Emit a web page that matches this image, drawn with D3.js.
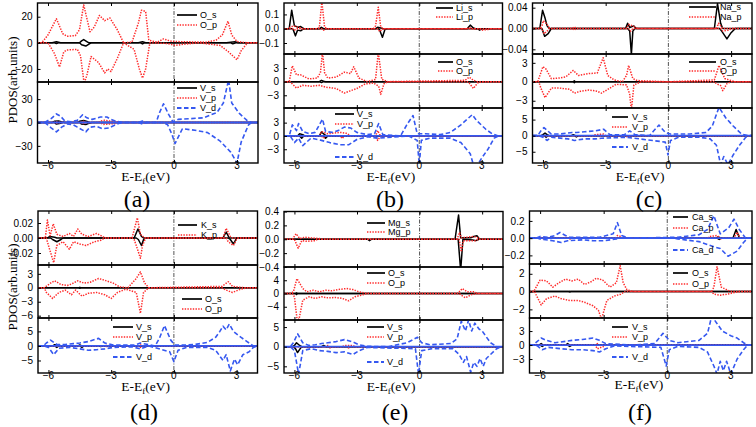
<!DOCTYPE html>
<html><head><meta charset="utf-8">
<script src="https://cdn.jsdelivr.net/npm/d3@7"></script>
<style>body{margin:0;background:#fff}svg{display:block}</style></head>
<body><svg id="c" width="756" height="427"></svg>
<script>
// ---------------- DATA (energy in eV, PDOS; up = positive, down = negative) ----------------
const xTicks = [-6, -3, 0, 3];
const xDomain = [-6.5, 4];

// (a) top: O
const a_Os_up = [[-5.8,0],[-5.6,0.8],[-5.4,0],[-4.5,0],[-4.4,1.5],[-4.3,2.5],[-4.15,1],[-4.05,0],[-1.7,0],[-1.5,0.8],[-1.35,0],[2.5,0],[2.7,0.5],[2.9,0.8],[3.05,0]];
const a_Os_dn = [[-5.7,0],[-5.6,-0.5],[-5.5,0],[-4.5,0],[-4.4,-1.5],[-4.2,-2.5],[-4.05,-1],[-3.95,0],[-1.6,0],[-1.5,-0.8],[-1.4,0],[2.7,0],[2.8,-0.8],[2.95,0]];
const a_Op_up = [[-6.3,0],[-6.0,6],[-5.6,18.5],[-5.3,7],[-5.1,5],[-4.7,5.5],[-4.5,10],[-4.3,29],[-4.0,8.5],[-3.8,12],[-3.55,21],[-3.3,17],[-3.05,19],[-2.7,10],[-2.4,0],[-2.0,0.5],[-1.7,15],[-1.55,25],[-1.35,24],[-1.2,2],[-0.8,0.5],[-0.5,3],[-0.2,1.5],[0,1],[1.5,0.5],[2.0,2],[2.3,6],[2.57,16.5],[2.75,6],[3.0,1],[3.5,0]];
const a_Op_dn = [[-6.0,0],[-5.7,-8],[-5.45,-18.5],[-5.25,-7],[-5.1,-5.5],[-4.6,-5],[-4.45,-10],[-4.28,-31],[-4.15,-25],[-3.95,-10.5],[-3.6,-15],[-3.3,-23],[-3.15,-20],[-3.0,-22],[-2.7,-12],[-2.4,0],[-1.9,-5],[-1.65,-20],[-1.5,-27],[-1.35,-20],[-1.15,0],[-0.3,-0.5],[0.05,-2],[0.5,-1],[1.2,0],[2.2,-2],[2.6,-7],[3.0,-13],[3.2,-6],[3.5,0]];
// (a) bottom: V
const a_Vs_up = [[-5.8,0],[-5.7,1.5],[-5.5,2],[-5.3,0.5],[-5.2,0],[-4.6,0],[-4.5,1.5],[-4.3,2.5],[-4.1,1],[-4.0,0]];
const a_Vs_dn = [[-5.7,0],[-5.6,-2],[-5.4,-1],[-5.3,0],[-4.5,0],[-4.4,-2],[-4.2,-2.5],[-4.0,-0.5],[-3.9,0]];
const a_Vp_up = [[-5.7,0],[-5.6,1],[-5.5,0],[-4.4,0],[-4.3,1.5],[-4.2,0],[-3.6,0],[-3.5,2],[-3.3,3],[-3.1,2],[-2.7,1],[-2.6,0],[-1.6,0],[-1.5,1],[-1.4,0],[2.5,0],[2.6,0.5],[2.7,0]];
const a_Vp_dn = [[-5.7,0],[-5.6,-1],[-5.5,0],[-4.4,0],[-4.3,-1.5],[-4.2,0],[-3.5,0],[-3.4,-2.5],[-3.1,-2],[-2.7,-1],[-2.6,0],[-1.6,0],[-1.5,-1],[-1.4,0]];
const a_Vd_up = [[-6.2,0],[-6.1,1],[-5.85,5],[-5.6,11],[-5.4,8],[-5.2,2],[-4.9,1],[-4.6,3],[-4.35,10],[-4.15,6],[-3.9,4],[-3.5,7],[-3.2,7],[-3.0,4],[-2.8,2],[-2.6,1],[-2.4,0],[-1.7,0],[-1.5,2],[-1.3,0],[-0.85,0],[-0.7,12],[-0.5,24],[-0.25,10],[-0.05,1],[0.2,4],[0.8,5],[1.4,6],[2.05,13],[2.35,25],[2.6,55],[2.75,25],[3.1,12],[3.46,3],[3.7,0]];
const a_Vd_dn = [[-6.2,0],[-6.1,-1],[-5.85,-7],[-5.6,-12],[-5.35,-6],[-5.1,-2],[-4.8,-3],[-4.6,-6],[-4.2,-12],[-4.0,-6],[-3.7,-5],[-3.4,-8],[-3.1,-7],[-2.8,-3],[-2.6,-1],[-2.4,0],[-1.7,0],[-1.5,-2],[-1.3,0],[-0.5,0],[-0.3,-3],[-0.1,-15],[0.05,-27],[0.4,-8],[1.0,-10],[1.6,-13],[2.2,-24],[2.7,-38],[3.0,-52],[3.2,-25],[3.55,-3],[3.7,0]];

// (b) top: Li
const b_Lis_up = [[-6.25,0],[-6.13,0.13],[-6.0,0.02],[-5.8,0.01],[-5.7,0.015],[-5.55,0],[-4.8,0],[-4.7,0.01],[-4.6,0],[-2.1,0],[-2.0,0.01],[-1.85,0.005],[-1.75,0],[2.3,0],[2.45,0.025],[2.6,0.005],[2.7,0]];
const b_Lis_dn = [[-6.1,0],[-6.05,-0.01],[-5.95,-0.05],[-5.85,-0.01],[-5.7,-0.015],[-5.55,0],[-1.95,0],[-1.9,-0.01],[-1.77,-0.06],[-1.65,-0.005],[-1.55,0],[2.8,0],[2.9,-0.01],[3.0,0]];
const b_Lip_up = [[-6.3,0],[-6.2,0.01],[-6.05,0.02],[-5.8,0.01],[-5.6,0],[-4.9,0],[-4.8,0.01],[-4.68,0.19],[-4.55,0.01],[-4.4,0],[-2.2,0],[-2.1,0.02],[-1.97,0.15],[-1.85,0.01],[-1.7,0],[2.3,0],[2.4,0.01],[2.5,0]];
const b_Lip_dn = [[-6.1,0],[-6.0,-0.01],[-5.9,0],[-4.7,0],[-4.6,-0.01],[-4.5,0],[-2.0,0],[-1.9,-0.02],[-1.8,-0.005],[-1.7,0],[2.9,0],[3.0,-0.01],[3.3,-0.005],[3.4,0]];
// (b) middle: O
const b_Os_up = [[-4.8,0],[-4.7,0.3],[-4.6,0.1],[-4.5,0]];
const b_Os_dn = [[-4.8,0],[-4.7,-0.2],[-4.6,0]];
const b_Op_up = [[-6.25,0],[-6.1,3.5],[-5.9,1.5],[-5.7,1.5],[-5.3,0.6],[-4.9,0.8],[-4.75,2],[-4.65,6.5],[-4.55,2],[-4.4,0.8],[-4.0,1],[-3.6,2.1],[-3.3,1.8],[-3.15,3.3],[-2.9,0.8],[-2.5,0],[-2.1,0.5],[-1.97,6.5],[-1.8,0.5],[-1.5,0],[2.2,0.3],[2.4,1],[2.6,0.3],[2.8,0]];
const b_Op_dn = [[-6.2,0],[-6.1,-0.5],[-5.9,-1.4],[-5.6,-0.8],[-5.2,-1],[-4.8,-0.8],[-4.5,-1.2],[-4.0,-1.5],[-3.6,-2.5],[-3.3,-2],[-3.0,-1.5],[-2.6,-0.5],[-2.2,-0.3],[-1.95,-1],[-1.85,-2.8],[-1.7,-0.5],[-1.5,0],[2.3,0],[2.4,-0.3],[2.6,-1.5],[2.8,-0.3],[3.0,0]];
// (b) bottom: V
const b_Vs_up = [[-5.85,0],[-5.75,0.5],[-5.6,0.3],[-5.5,0],[-4.8,0],[-4.7,0.9],[-4.55,0.3],[-4.45,0]];
const b_Vs_dn = [[-5.75,0],[-5.65,-0.5],[-5.55,0],[-4.6,0],[-4.5,-0.5],[-4.4,0]];
const b_Vp_up = [[-4.8,0],[-4.7,1],[-4.4,0.5],[-3.8,0.8],[-3.5,0.6],[-3.3,0],[-2.1,0],[-2.0,1.2],[-1.9,0.3],[-1.8,0]];
const b_Vp_dn = [[-4.7,0],[-4.6,-0.5],[-4.5,0],[-3.8,0],[-3.7,-0.6],[-3.6,0],[-2.1,0],[-2.0,-1.0],[-1.9,-0.3],[-1.8,0]];
const b_Vd_up = [[-6.25,0],[-6.1,2.5],[-5.9,1.2],[-5.8,2.8],[-5.6,1],[-5.3,0.5],[-5.0,0.8],[-4.65,3.8],[-4.5,1],[-4.2,0.8],[-3.9,1.2],[-3.6,2],[-3.3,1.8],[-3.0,0.8],[-2.5,0.3],[-2.15,0.5],[-1.95,2.8],[-1.75,0.3],[-0.9,0],[-0.6,2.5],[-0.3,4.6],[-0.1,0.5],[0.3,0.5],[1.0,0.3],[1.5,0.8],[2.0,2.5],[2.55,4.8],[2.75,3.5],[3.2,1.5],[3.5,0.5],[3.8,0]];
const b_Vd_dn = [[-6.2,0],[-6.0,-1.5],[-5.8,-0.5],[-5.6,-2.2],[-5.2,-0.5],[-4.7,-1],[-4.3,-1.5],[-3.8,-2],[-3.4,-2],[-3.0,-0.8],[-2.5,-0.2],[-2.0,-0.5],[-0.5,0],[-0.1,-1],[0,-6.5],[0.1,-1],[0.5,-0.5],[1.5,-0.5],[2.0,-1.5],[2.45,-4],[2.6,-6.5],[2.8,-6.5],[3.0,-5],[3.3,-3],[3.6,-0.5],[3.8,0]];

// (c) top: Na
const c_Nas_up = [[-6.15,0],[-6.02,0.035],[-5.9,0.02],[-5.8,0.005],[-5.7,0],[-2.05,0],[-1.95,0.01],[-1.85,0.002],[-1.65,0.005],[-1.55,0],[2.2,0],[2.35,0.048],[2.5,0.01],[2.6,0]];
const c_Nas_dn = [[-6.05,0],[-5.92,-0.015],[-5.75,-0.01],[-5.6,0],[-1.95,0],[-1.85,-0.005],[-1.77,-0.05],[-1.7,-0.005],[-1.6,0],[2.45,0],[2.55,-0.005],[2.8,-0.02],[3.0,-0.008],[3.2,0]];
const c_Nap_up = [[-6.15,0],[-6.05,0.005],[-5.98,0.015],[-5.85,0.01],[-5.7,0.002],[-5.6,0],[-4.6,0],[-4.5,0.003],[-4.4,0],[-2.0,0],[-1.9,0.008],[-1.6,0.003],[-1.5,0],[2.3,0],[2.4,0.01],[2.5,0.005],[2.6,0]];
const c_Nap_dn = [[-6.05,0],[-5.95,-0.01],[-5.8,-0.005],[-5.7,0],[-4.6,0],[-4.5,-0.003],[-4.4,0],[-1.9,0],[-1.8,-0.005],[-1.7,0],[2.5,0],[2.6,-0.005],[2.9,-0.003],[3.0,0]];
// (c) middle: O
const c_Os_up = [[-4.55,0],[-4.5,0.15],[-4.45,0]];
const c_Os_dn = [[-4.55,0],[-4.5,-0.15],[-4.45,0]];
const c_Op_up = [[-6.25,0],[-6.0,2.4],[-5.85,2],[-5.6,0.5],[-5.2,0.6],[-4.9,0.8],[-4.55,1.8],[-4.3,1],[-3.8,1.3],[-3.4,1.4],[-3.12,3.8],[-2.9,1],[-2.6,0.3],[-2.2,0],[-2.0,1],[-1.9,2.6],[-1.7,0.5],[-1.5,0.2],[-0.8,0.1],[0,0],[2.2,0.3],[2.42,2.6],[2.7,0.5],[3.0,0.2],[3.2,0]];
const c_Op_dn = [[-6.2,0],[-6.1,-1],[-5.9,-2.5],[-5.6,-1],[-5.2,-1],[-4.7,-1.2],[-4.5,-1.8],[-4.2,-1.5],[-3.8,-1.3],[-3.4,-1.5],[-3.2,-1.8],[-2.8,-1],[-2.5,-0.4],[-2.0,-0.5],[-1.85,-2],[-1.77,-4.5],[-1.65,-0.5],[-1.3,0],[2.2,0],[2.3,-0.3],[2.5,-0.6],[2.6,-1.4],[2.8,-0.3],[3.0,0]];
// (c) bottom: V
const c_Vs_up = [[-6.1,0],[-6.0,0.3],[-5.9,0.8],[-5.8,0.3],[-5.7,0],[-4.65,0],[-4.55,0.3],[-4.45,0]];
const c_Vs_dn = [[-5.95,0],[-5.85,-0.5],[-5.75,0],[-4.5,0],[-4.4,-0.4],[-4.3,0]];
const c_Vp_up = [[-3.6,0],[-3.5,0.3],[-3.1,0.5],[-3.0,0]];
const c_Vp_dn = [[-3.4,0],[-3.3,-0.3],[-3.2,0],[-2.1,0],[-2.0,-0.3],[-1.9,0]];
const c_Vd_up = [[-6.25,0],[-6.1,1.5],[-5.95,2.5],[-5.6,0.5],[-5.2,0.5],[-4.6,1],[-4.4,1],[-4.0,1.2],[-3.5,1.5],[-3.1,2],[-2.8,0.3],[-2.1,0.3],[-1.85,1.5],[-1.6,0.3],[-0.9,0],[-0.7,1.5],[-0.45,3.3],[-0.15,1],[0.1,0.5],[1.0,0.5],[1.8,1],[2.1,3],[2.42,8.8],[2.75,5.5],[3.1,3],[3.5,0.5],[3.8,0]];
const c_Vd_dn = [[-6.2,0],[-6.0,-0.5],[-5.8,-1.5],[-5.6,-0.5],[-4.8,-1],[-4.5,-1.5],[-4.0,-1],[-3.5,-1],[-3.2,-0.8],[-2.0,-0.5],[-0.15,-2],[-0.02,-6],[0.1,-1.5],[0.5,-0.5],[1.5,-0.5],[2.0,-1],[2.3,-3],[2.5,-9],[2.65,-6.5],[2.85,-9],[3.1,-6],[3.4,-3],[3.7,-0.5],[3.9,0]];

// (d) top: K
const d_Ks_up = [[-6.05,0],[-5.95,0.002],[-5.7,0.001],[-5.6,0],[-1.9,0],[-1.72,0.012],[-1.55,0.002],[-1.45,0],[2.35,0],[2.5,0.008],[2.65,0]];
const d_Ks_dn = [[-5.9,0],[-5.8,-0.002],[-5.6,-0.005],[-5.4,-0.002],[-5.3,0],[-1.8,0],[-1.7,-0.002],[-1.55,-0.01],[-1.45,-0.002],[-1.35,0],[2.6,0],[2.7,-0.002],[2.85,-0.008],[3.0,0]];
const d_Kp_up = [[-6.15,0],[-6.05,0.024],[-5.92,0.003],[-5.77,0.019],[-5.6,0.005],[-5.3,0.002],[-5.0,0.006],[-4.8,0.002],[-4.6,0.012],[-4.4,0.005],[-4.1,0.002],[-3.7,0.006],[-3.4,0.002],[-3.3,0],[-2.0,0],[-1.75,0.027],[-1.6,0.005],[-1.4,0],[2.35,0],[2.5,0.013],[2.7,0.002],[2.8,0]];
const d_Kp_dn = [[-6.1,0],[-6.0,-0.01],[-5.75,-0.033],[-5.6,-0.01],[-5.3,-0.005],[-5.0,-0.015],[-4.8,-0.005],[-4.5,-0.008],[-4.2,-0.01],[-3.8,-0.005],[-3.5,-0.003],[-3.3,0],[-2.0,0],[-1.9,-0.002],[-1.8,-0.01],[-1.6,-0.027],[-1.5,-0.01],[-1.35,0],[2.5,0],[2.6,-0.005],[2.85,-0.01],[3.0,-0.002],[3.1,0]];
// (d) middle: O
const d_Os_up = [[-4.55,0],[-4.5,0.1],[-4.45,0]];
const d_Os_dn = [[-4.55,0],[-4.5,-0.1],[-4.45,0]];
const d_Op_up = [[-6.2,0],[-5.9,1],[-5.7,1.5],[-5.4,0.7],[-5.1,0.5],[-4.9,0.8],[-4.6,1.5],[-4.3,1],[-4.0,1.2],[-3.6,2],[-3.3,1.6],[-2.9,1],[-2.6,0.2],[-2.2,0],[-1.8,2],[-1.6,3.4],[-1.4,1],[-1.2,0],[2.3,0.3],[2.45,0.8],[2.6,1.3],[2.8,0.3],[3.2,0.1],[3.4,0]];
const d_Op_dn = [[-6.2,0],[-6.1,-1],[-5.8,-2.3],[-5.5,-1],[-5.2,-0.5],[-4.9,-1.5],[-4.7,-0.5],[-4.4,-1.8],[-4.1,-1.2],[-3.7,-1],[-3.3,-1.5],[-3.0,-2.3],[-2.7,-1],[-2.3,-0.3],[-1.8,-1],[-1.6,-5.5],[-1.45,-1],[-1.2,0],[2.3,0],[2.5,-0.5],[2.8,-1],[3.2,-0.3],[3.5,0]];
// (d) bottom: V
const d_Vs_up = [[-5.8,0],[-5.7,0.4],[-5.5,0.3],[-5.4,0],[-4.6,0],[-4.5,0.3],[-4.4,0]];
const d_Vs_dn = [[-5.7,0],[-5.6,-0.5],[-5.5,0],[-4.5,0],[-4.4,-0.5],[-4.3,0],[-3.6,0],[-3.5,-0.2],[-3.4,0]];
const d_Vp_up = [[-3.3,0],[-3.2,0.3],[-3.1,0],[-1.7,0],[-1.6,0.3],[-1.5,0]];
const d_Vp_dn = [[-3.3,0],[-3.2,-0.3],[-3.1,0],[-1.7,0],[-1.6,-0.5],[-1.5,0]];
const d_Vd_up = [[-6.25,0],[-6.1,1],[-5.9,2],[-5.6,0.5],[-5.2,0.5],[-4.8,0.8],[-4.5,1],[-4.1,1.5],[-3.6,2.6],[-3.3,1],[-2.9,0.3],[-1.9,0.3],[-1.6,1],[-0.9,0],[-0.7,2.5],[-0.45,7],[-0.15,2],[0.05,0.3],[0.5,0.3],[1.0,0.5],[1.6,1.2],[2.0,3],[2.2,5],[2.35,6.8],[2.5,5.5],[2.65,7.5],[2.85,5],[3.2,3],[3.5,1.5],[3.8,0]];
const d_Vd_dn = [[-6.2,0],[-6.0,-0.5],[-5.75,-3],[-5.5,-0.8],[-5.0,-0.5],[-4.5,-1],[-4.1,-1.5],[-3.7,-1.3],[-3.3,-1],[-2.9,-0.5],[-2.0,-0.3],[-1.6,-1],[-1.2,0],[-0.2,-2],[0.0,-5.4],[0.2,-1.5],[0.6,-0.5],[1.6,-0.5],[2.0,-1.5],[2.35,-5],[2.5,-3],[2.7,-8.6],[2.9,-4.5],[3.05,-6.5],[3.3,-3],[3.6,-2],[3.8,-0.5],[4,0]];

// (e) top: Mg
const e_Mgs_up = [[1.7,0],[1.87,0.35],[1.97,0.02],[2.45,0.02],[2.6,0.04],[2.75,0.05],[2.85,0.01],[2.95,0]];
const e_Mgs_dn = [[-2.5,0],[-2.4,-0.02],[-2.3,0],[1.85,0],[1.97,-0.45],[2.08,0],[2.55,-0.01],[2.7,-0.02],[2.85,0]];
const e_Mgp_up = [[-6.1,0],[-5.92,0.08],[-5.75,0.01],[-5.5,0.03],[-5.2,0.02],[-4.8,0.01],[-4.7,0],[1.8,0],[1.92,0.1],[2.0,0.02],[2.6,0.04],[2.8,0.02],[2.9,0]];
const e_Mgp_dn = [[-6.0,0],[-5.82,-0.13],[-5.65,-0.02],[-5.4,-0.03],[-5.0,-0.02],[-4.9,0],[1.9,0],[2.0,-0.18],[2.1,-0.02],[2.7,-0.02],[2.8,0]];
// (e) middle: O
const e_Os_up = [[-5.95,0],[-5.9,0.2],[-5.85,0]];
const e_Os_dn = [[-5.95,0],[-5.9,-0.3],[-5.85,0]];
const e_Op_up = [[-6.2,0],[-6.05,0.5],[-5.88,4.5],[-5.6,1.5],[-5.4,0.5],[-5.1,1],[-4.8,0.5],[-4.5,1],[-4.2,0.8],[-3.9,1.2],[-3.5,1.5],[-3.2,1.2],[-2.9,0.5],[-2.6,0.1],[-2.3,0],[1.8,0],[1.9,0.5],[2.05,1.5],[2.3,0.5],[2.6,0.5],[2.8,0]];
const e_Op_dn = [[-6.1,0],[-6.0,-1],[-5.88,-7.5],[-5.78,-7.8],[-5.6,-2],[-5.3,-1],[-5.0,-1.5],[-4.7,-1],[-4.4,-1.3],[-4.0,-1.2],[-3.7,-1.5],[-3.4,-2.2],[-3.1,-1],[-2.8,-0.5],[-2.5,0],[1.9,0],[2.0,-0.5],[2.2,-1.3],[2.5,-0.3],[2.8,0]];
// (e) bottom: V
const e_Vs_up = [[-6.1,0],[-6.0,0.3],[-5.9,1],[-5.75,0.3],[-5.65,0],[-4.7,0],[-4.6,0.3],[-4.5,0]];
const e_Vs_dn = [[-6.05,0],[-5.95,-0.5],[-5.85,-1.5],[-5.7,-0.3],[-5.6,0]];
const e_Vp_up = [[-4.5,0],[-4.4,0.3],[-4.3,0],[-3.7,0],[-3.6,0.3],[-3.2,0.3],[-3.1,0]];
const e_Vp_dn = [[-4.4,0],[-4.3,-0.3],[-4.2,0],[-3.5,0],[-3.4,-0.3],[-3.3,0]];
const e_Vd_up = [[-6.2,0],[-6.05,1],[-5.85,3.3],[-5.6,1],[-5.3,0.3],[-5.0,0.5],[-4.7,0.8],[-4.4,1],[-4.0,1.3],[-3.6,1.8],[-3.2,1.2],[-2.9,0.5],[-2.5,0.1],[-1.5,0],[-0.6,1],[-0.1,2.4],[0.1,1],[0.5,0.5],[1.5,0.8],[1.8,2],[2.0,6.5],[2.2,4],[2.35,6.8],[2.5,4],[2.65,6],[2.85,4.5],[3.0,4],[3.2,2.5],[3.4,1],[3.7,0]];
const e_Vd_dn = [[-6.2,0],[-6.0,-1],[-5.8,-7],[-5.6,-1],[-5.2,-0.5],[-4.8,-1],[-4.4,-1.2],[-4.0,-1.5],[-3.6,-1.3],[-3.2,-2],[-2.9,-1],[-2.5,-0.2],[-0.2,-0.5],[-0.05,-7],[0.1,-1],[0.6,-0.5],[1.6,-0.5],[1.9,-2],[2.1,-4],[2.25,-2.5],[2.45,-6.5],[2.6,-4],[2.75,-5],[2.9,-3],[3.05,-5],[3.2,-3],[3.4,-2],[3.7,-0.5],[3.9,0]];

// (f) top: Ca
const f_Cas_up = [[2.3,0],[2.4,0.015],[2.5,0.005],[2.6,0],[3.1,0],[3.25,0.1],[3.4,0.005],[3.5,0]];
const f_Cas_dn = [[2.35,0],[2.45,-0.015],[2.55,0]];
const f_Cap_up = [[-6.0,0],[-5.9,0.01],[-5.8,0],[-4.9,0],[-4.8,0.01],[-4.7,0],[-2.45,0],[-2.35,0.03],[-2.2,0.02],[-2.1,0],[1.9,0],[2.0,0.02],[2.35,0.03],[2.5,0],[3.15,0],[3.3,0.07],[3.45,0]];
const f_Cap_dn = [[-5.9,0],[-5.8,-0.01],[-5.7,0],[-4.7,0],[-4.6,-0.01],[-4.5,0],[2.4,0],[2.5,-0.01],[2.6,0]];
const f_Cad_up = [[-6.2,0],[-6.0,0.02],[-5.6,0.01],[-5.3,0.03],[-5.06,0.065],[-4.8,0.03],[-4.6,0.01],[-4.0,0.01],[-3.2,0.01],[-2.55,0.05],[-2.35,0.18],[-2.15,0.03],[-1.8,0],[0.5,0.01],[1.5,0.04],[1.9,0.1],[2.2,0.26],[2.5,0.05],[2.9,0.12],[3.15,0.22],[3.4,0.1],[3.7,0]];
const f_Cad_dn = [[-6.1,0],[-6.0,-0.01],[-5.4,-0.03],[-5.0,-0.05],[-4.7,-0.03],[-4.0,-0.02],[-3.5,-0.03],[-3.0,-0.03],[-2.4,-0.01],[-2.3,0],[0.3,0],[0.5,-0.01],[1.5,-0.04],[2.2,-0.1],[2.5,-0.12],[2.87,-0.21],[3.3,-0.15],[3.6,-0.05],[3.8,0]];
// (f) middle: O
const f_Os_up = [[-4.65,0],[-4.6,0.05],[-4.55,0]];
const f_Os_dn = [[-4.65,0],[-4.6,-0.05],[-4.55,0]];
const f_Op_up = [[-6.3,0],[-6.0,1.3],[-5.7,1.2],[-5.4,0.5],[-5.1,1],[-4.8,1.4],[-4.5,1.2],[-4.2,1.4],[-3.9,0.8],[-3.6,1.1],[-3.35,1.5],[-3.05,1.3],[-2.7,0.5],[-2.4,1],[-2.22,2.9],[-2.08,1],[-1.9,0.2],[-1.6,0],[2.1,0],[2.2,0.5],[2.35,2.8],[2.55,0.5],[2.9,0.1],[3.1,0]];
const f_Op_dn = [[-6.25,0],[-6.2,-0.3],[-5.95,-1.5],[-5.7,-0.8],[-5.3,-0.5],[-5.0,-0.8],[-4.6,-1.0],[-4.2,-1],[-3.9,-1.2],[-3.5,-1.6],[-3.25,-2.1],[-3.1,-3.1],[-2.85,-1],[-2.5,-0.5],[-2.2,-0.3],[-2.0,0],[2.1,0],[2.2,-0.3],[2.5,-0.4],[2.8,-0.3],[3.2,-0.1],[3.4,0]];
// (f) bottom: V
const f_Vs_up = [[-6.05,0],[-5.95,0.3],[-5.85,0],[-4.8,0],[-4.7,0.3],[-4.6,0]];
const f_Vs_dn = [[-6.0,0],[-5.9,-0.3],[-5.8,0],[-4.7,0],[-4.6,-0.3],[-4.5,0]];
const f_Vp_up = [[-3.4,0],[-3.3,0.3],[-3.2,0]];
const f_Vp_dn = [[-3.4,0],[-3.3,-0.8],[-3.0,-0.3],[-2.9,0]];
const f_Vd_up = [[-6.3,0],[-6.2,0.5],[-5.95,1.5],[-5.7,1],[-5.3,0.5],[-4.8,0.8],[-4.5,1],[-4.0,1.2],[-3.5,1.5],[-3.2,1],[-2.9,0.3],[-1.7,0],[-0.6,0.3],[-0.2,2.5],[0.1,1],[0.5,0.5],[1.5,1],[1.9,2.5],[2.1,6.2],[2.6,3],[3.0,2],[3.3,1.5],[3.6,0.5],[3.8,0]];
const f_Vd_dn = [[-6.2,0],[-6.1,-0.3],[-5.9,-1],[-5.6,-0.5],[-5.0,-0.8],[-4.5,-1],[-4.0,-1],[-3.5,-1.2],[-3.2,-1.5],[-2.9,-0.8],[-2.5,-0.2],[-0.3,-0.5],[-0.05,-4.5],[0.1,-1],[0.5,-0.3],[1.5,-0.5],[1.9,-1.5],[2.2,-4.5],[2.35,-6.2],[2.5,-3.5],[2.65,-5.5],[2.8,-3.5],[3.0,-6.2],[3.3,-3],[3.6,-1],[3.8,0]];

// y tick values per subplot
const a1Ticks=[-20,0,20], a2Ticks=[-30,0,30];
const b1Ticks=[-0.1,0,0.1], b2Ticks=[-3,0,3], b3Ticks=[-3,0,3];
const c1Ticks=[-0.04,0,0.04], c2Ticks=[-3,0,3], c3Ticks=[-5,0,5];
const d1Ticks=[-0.02,0,0.02], d2Ticks=[-6,-3,0,3], d3Ticks=[-5,0,5];
const e1Ticks=[-0.4,-0.2,0,0.2,0.4], e2Ticks=[-4,0,4], e3Ticks=[-5,0,5];
const f1Ticks=[-0.2,0,0.2], f2Ticks=[-2,0,2], f3Ticks=[-3,0,3];

// ---------------- LAYOUT / STYLE ----------------
const COL = {s:'#000000', p:'#ff2a2a', d:'#3558f0'};
const f0 = d3.format('d'), f1 = d3.format('.1f'), f2 = d3.format('.2f');
const ser = (name, kind, up, dn) => ({name, kind, up, dn});

const panels = [
 {x0:37.5, x1:258, label:'(a)', lx:137, ly:207, axY:181, tkY:169,
  subs:[
   {y0:3, y1:82, dom:[-30,30.5], ticks:a1Ticks, fmt:f0,
    series:[ser('O_s','s',a_Os_up,a_Os_dn), ser('O_p','p',a_Op_up,a_Op_dn)],
    leg:{l0:177,l1:197,tx:200,ys:[15,25]}},
   {y0:82, y1:163, dom:[-52,52], ticks:a2Ticks, fmt:f0,
    series:[ser('V_s','s',a_Vs_up,a_Vs_dn), ser('V_p','p',a_Vp_up,a_Vp_dn), ser('V_d','d',a_Vd_up,a_Vd_dn)],
    leg:{l0:177,l1:197,tx:200,ys:[88,98,108]}}
  ]},
 {x0:284, x1:502.5, label:'(b)', lx:390, ly:207, axY:181, tkY:169,
  subs:[
   {y0:3, y1:54, dom:[-0.177,0.18], ticks:b1Ticks, fmt:f1,
    series:[ser('Li_s','s',b_Lis_up,b_Lis_dn), ser('Li_p','p',b_Lip_up,b_Lip_dn)],
    leg:{l0:436,l1:453,tx:456,ys:[8,17]}},
   {y0:54, y1:108, dom:[-5.8,6.1], ticks:b2Ticks, fmt:f0,
    series:[ser('O_s','s',b_Os_up,b_Os_dn), ser('O_p','p',b_Op_up,b_Op_dn)],
    leg:{l0:438,l1:453,tx:456,ys:[62,71]}},
   {y0:108, y1:163, dom:[-6.1,6.3], ticks:b3Ticks, fmt:f0,
    series:[ser('V_s','s',b_Vs_up,b_Vs_dn), ser('V_p','p',b_Vp_up,b_Vp_dn), ser('V_d','d',b_Vd_up,b_Vd_dn)],
    leg:{l0:335,l1:354,tx:357,ys:[114,124,157]}}
  ]},
 {x0:532.5, x1:752, label:'(c)', lx:649, ly:207, axY:181, tkY:169,
  subs:[
   {y0:3, y1:54, dom:[-0.049,0.049], ticks:c1Ticks, fmt:f2,
    series:[ser('Na_s','s',c_Nas_up,c_Nas_dn), ser('Na_p','p',c_Nap_up,c_Nap_dn)],
    leg:{l0:689,l1:716,tx:720,ys:[7,17]}},
   {y0:54, y1:108, dom:[-4.15,4.4], ticks:c2Ticks, fmt:f0,
    series:[ser('O_s','s',c_Os_up,c_Os_dn), ser('O_p','p',c_Op_up,c_Op_dn)],
    leg:{l0:689,l1:716,tx:720,ys:[62,71]}},
   {y0:108, y1:163, dom:[-8.5,8.6], ticks:c3Ticks, fmt:f0,
    series:[ser('V_s','s',c_Vs_up,c_Vs_dn), ser('V_p','p',c_Vp_up,c_Vp_dn), ser('V_d','d',c_Vd_up,c_Vd_dn)],
    leg:{l0:612,l1:628,tx:632,ys:[117,127,147]}}
  ]},
 {x0:38, x1:257.5, label:'(d)', lx:144, ly:420, axY:391, tkY:379,
  subs:[
   {y0:211, y1:265, dom:[-0.036,0.036], ticks:d1Ticks, fmt:f2,
    series:[ser('K_s','s',d_Ks_up,d_Ks_dn), ser('K_p','p',d_Kp_up,d_Kp_dn)],
    leg:{l0:178,l1:197,tx:201,ys:[225,235]}},
   {y0:265, y1:318, dom:[-6.5,4.9], ticks:d2Ticks, fmt:f0,
    series:[ser('O_s','s',d_Os_up,d_Os_dn), ser('O_p','p',d_Op_up,d_Op_dn)],
    leg:{l0:182,l1:202,tx:205,ys:[299,309]}},
   {y0:318, y1:373, dom:[-9.3,9.6], ticks:d3Ticks, fmt:f0,
    series:[ser('V_s','s',d_Vs_up,d_Vs_dn), ser('V_p','p',d_Vp_up,d_Vp_dn), ser('V_d','d',d_Vd_up,d_Vd_dn)],
    leg:{l0:113,l1:133,tx:136,ys:[327,337,357]}}
  ]},
 {x0:284, x1:503, label:'(e)', lx:395, ly:420, axY:391, tkY:379,
  subs:[
   {y0:211.5, y1:267, dom:[-0.4,0.4], ticks:e1Ticks, fmt:f1,
    series:[ser('Mg_s','s',e_Mgs_up,e_Mgs_dn), ser('Mg_p','p',e_Mgp_up,e_Mgp_dn)],
    leg:{l0:367,l1:385,tx:388,ys:[223,232]}},
   {y0:267, y1:320, dom:[-8,8], ticks:e2Ticks, fmt:f0,
    series:[ser('O_s','s',e_Os_up,e_Os_dn), ser('O_p','p',e_Op_up,e_Op_dn)],
    leg:{l0:367,l1:385,tx:388,ys:[273,283]}},
   {y0:320, y1:373, dom:[-6.7,6.8], ticks:e3Ticks, fmt:f0,
    series:[ser('V_s','s',e_Vs_up,e_Vs_dn), ser('V_p','p',e_Vp_up,e_Vp_dn), ser('V_d','d',e_Vd_up,e_Vd_dn)],
    leg:{l0:367,l1:384,tx:387,ys:[327,337,362]}}
  ]},
 {x0:529.5, x1:752, label:'(f)', lx:640, ly:420, axY:389, tkY:379,
  subs:[
   {y0:211, y1:264, dom:[-0.3,0.315], ticks:f1Ticks, fmt:f1,
    series:[ser('Ca_s','s',f_Cas_up,f_Cas_dn), ser('Ca_p','p',f_Cap_up,f_Cap_dn), ser('Ca_d','d',f_Cad_up,f_Cad_dn)],
    leg:{l0:673,l1:688,tx:692,ys:[217,228,250]}},
   {y0:264, y1:318, dom:[-2.97,3.1], ticks:f2Ticks, fmt:f0,
    series:[ser('O_s','s',f_Os_up,f_Os_dn), ser('O_p','p',f_Op_up,f_Op_dn)],
    leg:{l0:673,l1:688,tx:692,ys:[273,284]}},
   {y0:318, y1:373, dom:[-6,5.8], ticks:f3Ticks, fmt:f0,
    series:[ser('V_s','s',f_Vs_up,f_Vs_dn), ser('V_p','p',f_Vp_up,f_Vp_dn), ser('V_d','d',f_Vd_up,f_Vd_dn)],
    leg:{l0:612,l1:628,tx:632,ys:[327,337,357]}}
  ]}
];

// ---------------- DRAW ----------------
const svg = d3.select('#c');
const defs = svg.append('defs');
const STY = {
  s:{w:1.5, dash:null},
  p:{w:1.5, dash:'1.4 1.3'},
  d:{w:1.6, dash:'4.5 2.5'}
};
const SANS = 'Arial, "Liberation Sans", sans-serif';
const SERIF = '"Times New Roman", "Liberation Serif", serif';

panels.forEach((P, pi) => {
  const x = d3.scaleLinear().domain(xDomain).range([P.x0, P.x1]);
  P.subs.forEach((S, si) => {
    const y = d3.scaleLinear().domain(S.dom).range([S.y1, S.y0]);
    const cid = `clip${pi}_${si}`;
    defs.append('clipPath').attr('id', cid).append('rect')
      .attr('x', P.x0).attr('y', S.y0).attr('width', P.x1 - P.x0).attr('height', S.y1 - S.y0);
    const g = svg.append('g');
    const pg = g.append('g').attr('clip-path', `url(#${cid})`);
    const hasD = S.series.some(s => s.kind === 'd');
    pg.append('line').attr('x1', x(0)).attr('x2', x(0)).attr('y1', S.y0).attr('y2', S.y1)
      .attr('stroke', '#555').attr('stroke-width', 1).attr('stroke-dasharray', '4 1.5 1 1.5');
    const line = d3.line().x(d => x(d[0])).y(d => y(d[1]));
    S.series.forEach(s => {
      [s.up, s.dn].forEach(arr => {
        const pts = [[xDomain[0], 0], ...arr, [xDomain[1], 0]];
        pg.append('path').attr('d', line(pts)).attr('fill', 'none')
          .attr('stroke', COL[s.kind]).attr('stroke-width', STY[s.kind].w)
          .attr('stroke-dasharray', STY[s.kind].dash).attr('stroke-linejoin', 'round');
      });
    });
    if (hasD) {
      pg.append('line').attr('x1', P.x0).attr('x2', P.x1).attr('y1', y(0)).attr('y2', y(0))
        .attr('stroke', COL.d).attr('stroke-width', 1.8);
    }
    const ya = g.append('g').attr('transform', `translate(${P.x0},0)`)
      .call(d3.axisLeft(y).tickValues(S.ticks).tickFormat(S.fmt).tickSizeInner(-3).tickSizeOuter(0).tickPadding(5));
    ya.select('.domain').remove();
    ya.selectAll('text').attr('font-family', SANS).attr('font-size', 10).attr('fill', '#000');
    ya.selectAll('line').attr('stroke', '#000');
    const last = si === P.subs.length - 1;
    const xb = g.append('g').attr('transform', `translate(0,${S.y1})`)
      .call(d3.axisBottom(x).tickValues(xTicks).tickSizeInner(-3).tickSizeOuter(0).tickFormat(''));
    xb.select('.domain').remove();
    const xt = g.append('g').attr('transform', `translate(0,${S.y0})`)
      .call(d3.axisTop(x).tickValues(xTicks).tickSizeInner(-3).tickSizeOuter(0).tickFormat(''));
    xt.select('.domain').remove();
    g.append('rect').attr('x', P.x0).attr('y', S.y0).attr('width', P.x1 - P.x0).attr('height', S.y1 - S.y0)
      .attr('fill', 'none').attr('stroke', '#000').attr('stroke-width', 1.4);
    S.series.forEach((s, k) => {
      const ly = S.leg.ys[k];
      g.append('line').attr('x1', S.leg.l0).attr('x2', S.leg.l1).attr('y1', ly).attr('y2', ly)
        .attr('stroke', COL[s.kind]).attr('stroke-width', STY[s.kind].w + 0.2)
        .attr('stroke-dasharray', STY[s.kind].dash);
      g.append('text').attr('x', S.leg.tx).attr('y', ly).attr('dy', '0.35em')
        .attr('font-family', SANS).attr('font-size', 9).text(s.name);
    });
    if (last) {
      g.selectAll('.xlab').data(xTicks).enter().append('text')
        .attr('x', d => x(d)).attr('y', P.tkY).attr('text-anchor', 'middle')
        .attr('font-family', SANS).attr('font-size', 10).text(d => f0(d));
    }
  });
  const t = svg.append('text').attr('x', x(0) - 4).attr('y', P.axY).attr('text-anchor', 'end')
    .attr('font-family', SERIF).attr('font-size', 13.5);
  t.append('tspan').text('E-E');
  t.append('tspan').attr('font-size', 9).attr('dy', 3).text('f');
  t.append('tspan').attr('dy', -3).text('(eV)');
  svg.append('text').attr('x', P.lx).attr('y', P.ly).attr('text-anchor', 'middle')
    .attr('font-family', SERIF).attr('font-size', 24).text(P.label);
});

[[12, 80], [12, 287]].forEach(([cx, cy]) => {
  svg.append('text').attr('transform', `translate(${cx},${cy}) rotate(-90)`)
    .attr('text-anchor', 'middle').attr('dy', '0.35em')
    .attr('font-family', SERIF).attr('font-size', 13).text('PDOS(arb.units)');
});
</script></body></html>
